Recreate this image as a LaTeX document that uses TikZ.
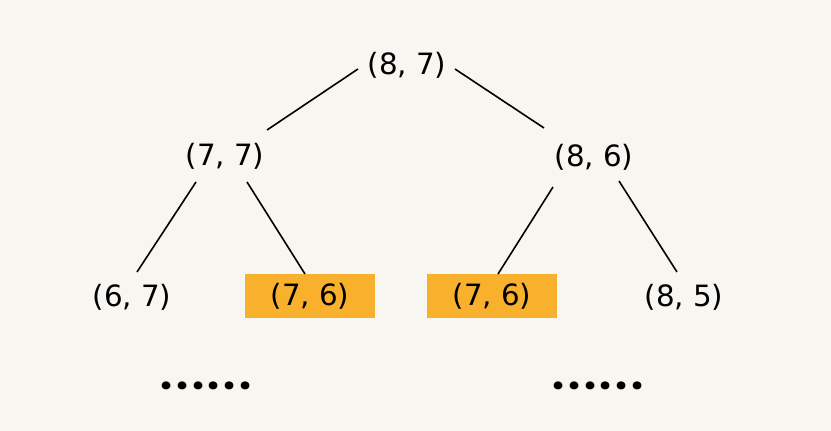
\documentclass[tikz,border=0pt]{standalone}
\usepackage{fontspec}
\setmainfont{DejaVu Sans}
\newfontfamily\dotfont[LetterSpace=8.7]{Poppins}
\usetikzlibrary{calc}
\definecolor{paper}{HTML}{F8F6F0}
\definecolor{hilite}{HTML}{F9B12D}

\begin{document}
\begin{tikzpicture}[x=0.75pt,y=-0.75pt,
    pair/.style={font=\fontsize{22}{26}\selectfont,inner sep=0pt},
    marked/.style={pair,fill=hilite,minimum width=97.5pt,minimum height=33pt},
    more/.style={font=\dotfont\bfseries\fontsize{32}{32}\selectfont,inner sep=0pt},
    edge/.style={line width=1.2pt}]
  \fill[paper] (0,0) rectangle (831,431);
  \useasboundingbox (0,0) rectangle (831,431);
  \node[pair]   (root) at (407,65)  {(8, 7)};
  \node[pair]   (l)    at (225,156) {(7, 7)};
  \node[pair]   (r)    at (594,157) {(8, 6)};
  \node[pair]   (ll)   at (132,297) {(6, 7)};
  \node[marked] (lr)   at (310,296) {(7, 6)};
  \node[marked] (rl)   at (492,296) {(7, 6)};
  \node[pair]   (rr)   at (684,297) {(8, 5)};
  \node[more]   (dl)   at (206,386) {......};
  \node[more]   (dr)   at (598,386) {......};
  \draw[edge] ($(root)+(-49,4)$) -- ($(l)+(42,-26)$);
  \draw[edge] ($(root)+(48,4)$)  -- ($(r)+(-50,-29)$);
  \draw[edge] ($(l)+(-29,26)$)   -- ($(ll)+(5,-25)$);
  \draw[edge] ($(l)+(22,26)$)    -- ($(lr)+(-5,-22)$);
  \draw[edge] ($(r)+(-41,30)$)   -- ($(rl)+(6,-22)$);
  \draw[edge] ($(r)+(25,24)$)    -- ($(rr)+(-7,-25)$);
\end{tikzpicture}
\end{document}
